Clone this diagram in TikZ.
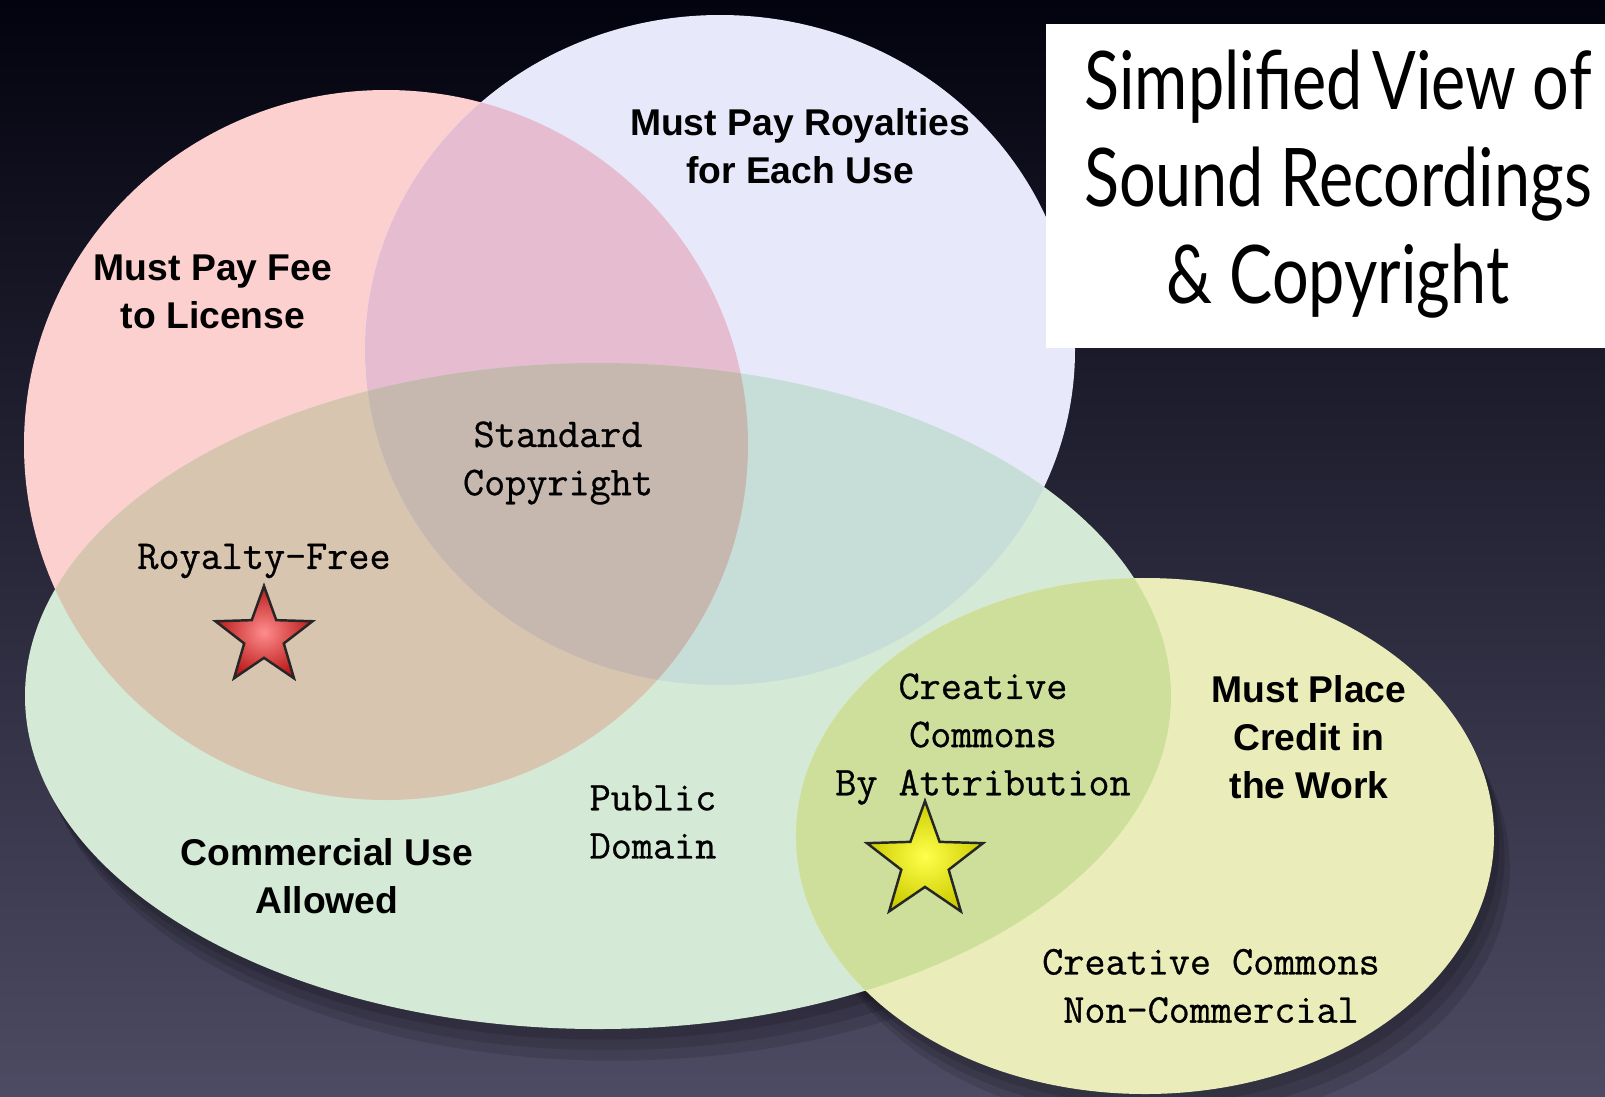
\documentclass[tikz,border=0pt]{standalone}
\usepackage{fontspec}
\setmainfont{Liberation Sans}
\newfontfamily\titlefont[FakeStretch=0.8]{Lato}
\newfontfamily\monofont[FakeBold=0.7]{Latin Modern Mono}
\usetikzlibrary{shapes.geometric}

\definecolor{bgtop}{HTML}{03030F}
\definecolor{bgmid}{HTML}{17172B}
\definecolor{bgbot}{HTML}{4D4B63}
\definecolor{feepink}{HTML}{FDD0D0}
\definecolor{roylav}{HTML}{E8E8FB}
\definecolor{commgreen}{HTML}{D4EAD6}
\definecolor{credyel}{HTML}{EAEDB9}
\definecolor{feeroy}{HTML}{E6BCD0}
\definecolor{feecomm}{HTML}{D7C5B0}
\definecolor{roycomm}{HTML}{C7DDD8}
\definecolor{allthree}{HTML}{C6B7AF}
\definecolor{commcred}{HTML}{CEDF9C}

\begin{document}
\begin{tikzpicture}[x=0.01cm, y=-0.01cm,
  sanslbl/.style={font=\bfseries\fontsize{10.6}{13.7}\selectfont, align=center},
  monolbl/.style={font=\monofont\fontsize{11.65}{13.7}\selectfont, align=center},
  starmark/.style={star, star points=5, star point ratio=2.45, inner sep=0pt,
    draw=black!85, line width=0.7pt, shading=radial},
  setshadow/.style={fill=black, opacity=0.12},
  feeset/.style={insert path={(386,445) ellipse [x radius=362, y radius=355]}},
  royset/.style={insert path={(720,350) ellipse [x radius=355, y radius=335]}},
  commset/.style={insert path={(598,696) ellipse [x radius=573, y radius=333]}},
  credset/.style={insert path={(1145,836) ellipse [x radius=349, y radius=258]}}]

\useasboundingbox (0,0) rectangle (1605,1096);
\shade[top color=bgtop, middle color=bgmid, bottom color=bgbot] (0,0) rectangle (1605,1096);

% soft shadows under the sets
\foreach \off in {3,6,9} {
  \path[setshadow, xshift=\off*0.5, yshift=-\off] [commset];
  \path[setshadow, xshift=\off*0.5, yshift=-\off] [credset];
}

% the four sets
\fill[feepink] [feeset];
\fill[roylav] [royset];
\fill[commgreen] [commset];
\fill[credyel] [credset];

% overlaps
\begin{scope}
\clip[feeset];
\fill[feeroy] [royset];
\fill[feecomm] [commset];
\end{scope}
\begin{scope}
\clip[royset];
\fill[roycomm] [commset];
\end{scope}
\begin{scope}
\clip[feeset];
\clip[royset];
\fill[allthree] [commset];
\end{scope}
\begin{scope}
\clip[commset];
\fill[commcred] [credset];
\end{scope}

\node[sanslbl] (royalties) at (800,146) {Must Pay Royalties\\for Each Use};
\node[sanslbl] (fee) at (213,292) {Must Pay Fee\\to License};
\node[monolbl] (standard) at (558,463) {Standard\\Copyright};
\node[monolbl] (royfree) at (264,561) {Royalty-Free};
\node[starmark, minimum size=1.02cm, inner color=red!45!white, outer color=red!70!black!90]
  (redstar) at (264,637) {};
\node[monolbl] (public) at (653,822) {Public\\Domain};
\node[sanslbl] (commercial) at (327,876) {Commercial Use\\Allowed};
\node[monolbl] (ccby) at (983,739) {Creative\\Commons\\By Attribution};
\node[starmark, minimum size=1.22cm, inner color=yellow!70!white, outer color=yellow!80!black]
  (yelstar) at (925,862) {};
\node[sanslbl] (credit) at (1309,737) {Must Place\\Credit in\\the Work};
\node[monolbl] (ccnc) at (1211,986) {Creative Commons\\Non-Commercial};

% title
\fill[white] (1046,24) rectangle (1605,348);
\node[font=\titlefont\fontsize{23}{27.6}\selectfont, align=center] (title) at (1338,184)
  {Simplified\hspace{0.12em}View of\\Sound Recordings\\\& Copyright};

\end{tikzpicture}
\end{document}
